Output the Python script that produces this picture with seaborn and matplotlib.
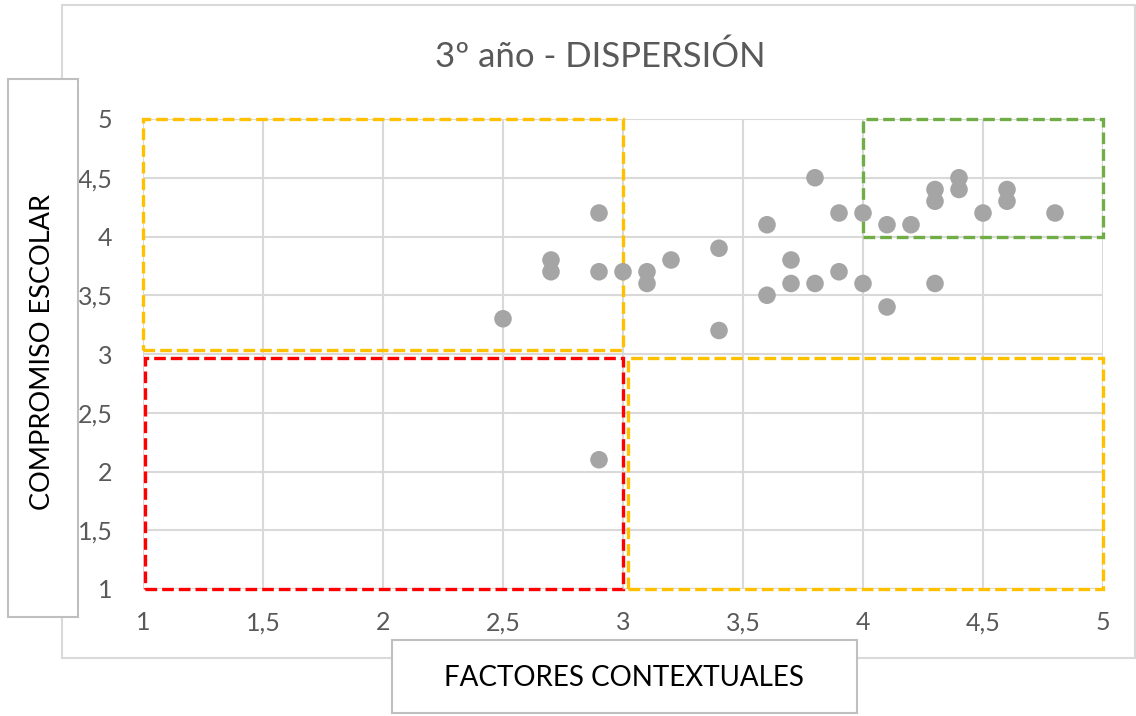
import matplotlib
matplotlib.use("Agg")
import matplotlib.pyplot as plt
import matplotlib.patches as mpatches
import seaborn as sns
import pandas as pd

# data
factores = [2.5, 2.7, 2.7, 2.9, 2.9, 2.9, 3.0, 3.1, 3.1, 3.2, 3.4, 3.4,
            3.6, 3.6, 3.7, 3.7, 3.8, 3.8, 3.9, 3.9, 4.0, 4.0, 4.1, 4.1,
            4.2, 4.3, 4.3, 4.3, 4.4, 4.4, 4.5, 4.6, 4.6, 4.8]
compromiso = [3.3, 3.8, 3.7, 4.2, 3.7, 2.1, 3.7, 3.7, 3.6, 3.8, 3.9, 3.2,
              4.1, 3.5, 3.8, 3.6, 4.5, 3.6, 4.2, 3.7, 4.2, 3.6, 4.1, 3.4,
              4.1, 4.4, 4.3, 3.6, 4.5, 4.4, 4.2, 4.4, 4.3, 4.2]

# quadrant boxes: (x0, x1, y0, y1), colour
zonas = [(1.0, 3.0, 3.03, 5.0), (1.01, 3.0, 1.0, 2.97),
         (3.02, 5.0, 1.0, 2.97), (4.0, 5.0, 4.0, 5.0)]
zona_colores = ["#FFC000", "#FF0000", "#FFC000", "#70AD47"]

ticks = [1, 1.5, 2, 2.5, 3, 3.5, 4, 4.5, 5]
tick_labels = ["1", "1,5", "2", "2,5", "3", "3,5", "4", "4,5", "5"]

df = pd.DataFrame({"x": factores, "y": compromiso})

sns.set_style("white")
plt.rcParams["font.family"] = ["Lato", "DejaVu Sans"]

fig = plt.figure(figsize=(11.36, 7.16), dpi=100)
ax = fig.add_axes([143 / 1136, 1 - 589 / 716, 960 / 1136, 470 / 716])

# chart area frame
fig.patches.append(mpatches.Rectangle((62 / 1136, 1 - 658 / 716), 1073 / 1136, 653 / 716,
                                      transform=fig.transFigure, fill=False,
                                      edgecolor="#D9D9D9", lw=1.5, zorder=0))

for (x0, x1, y0, y1), c in zip(zonas, zona_colores):
    ax.add_patch(mpatches.Rectangle((x0, y0), x1 - x0, y1 - y0, fill=False,
                                    edgecolor=c, lw=2.4, linestyle=(0, (3.5, 1.5)),
                                    zorder=3, clip_on=False))

sns.scatterplot(data=df, x="x", y="y", ax=ax, color="#A5A5A5", s=160,
                edgecolor="none", zorder=4, clip_on=False)

ax.set_xlim(1, 5)
ax.set_ylim(1, 5)
ax.set_xticks(ticks)
ax.set_yticks(ticks)
ax.set_xticklabels(tick_labels)
ax.set_yticklabels(tick_labels)
ax.grid(True, color="#D9D9D9", lw=1.5)
ax.set_axisbelow(True)
for s in ax.spines.values():
    s.set_visible(False)
ax.tick_params(axis="x", length=0, labelsize=18, colors="#595959", pad=16)
ax.tick_params(axis="y", length=0, labelsize=18, colors="#595959", pad=22)
ax.set_xlabel("")
ax.set_ylabel("")

fig.text(600 / 1136, 1 - 57 / 716, "3º año - DISPERSIÓN", ha="center", va="center",
         fontsize=25, color="#595959")

# axis title boxes
fig.text(43 / 1136, 1 - 352 / 716, "COMPROMISO ESCOLAR", rotation=90, ha="center",
         va="center", fontsize=19.5, color="black")
fig.patches.append(mpatches.Rectangle((8 / 1136, 1 - 617 / 716), 70 / 1136, 538 / 716,
                                      transform=fig.transFigure, facecolor="white",
                                      edgecolor="#BFBFBF", lw=1.5, zorder=1))
fig.text(624 / 1136, 1 - 678 / 716, "FACTORES CONTEXTUALES", ha="center",
         va="center", fontsize=20, color="black")
fig.patches.append(mpatches.Rectangle((392 / 1136, 1 - 713 / 716), 465 / 1136, 73 / 716,
                                      transform=fig.transFigure, facecolor="white",
                                      edgecolor="#BFBFBF", lw=1.5, zorder=1))

fig.savefig("out.png", dpi=100)
